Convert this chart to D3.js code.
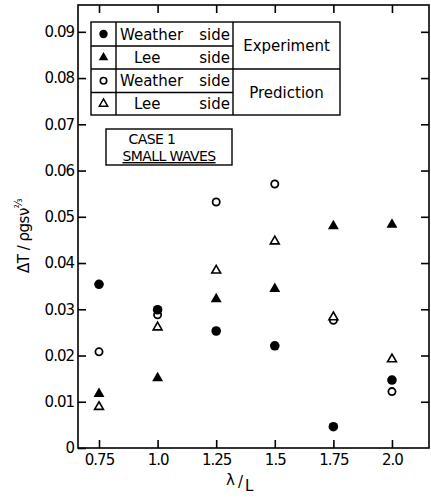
<!DOCTYPE html>
<html><head><meta charset="utf-8">
<script src="https://cdn.jsdelivr.net/npm/d3@7"></script>
<style>
html,body{margin:0;padding:0;background:#fff;}
svg{display:block;font-family:"DejaVu Sans",sans-serif;}
</style></head>
<body>
<svg id="c" width="431" height="499"></svg>
<script>
const ratio = [0.75, 1.0, 1.25, 1.5, 1.75, 2.0];
const xTicks = [0.75, 1.0, 1.25, 1.5, 1.75, 2.0];
const xTickLabels = ["0.75", "1.0", "1.25", "1.5", "1.75", "2.0"];
const yTicks = [0, 0.01, 0.02, 0.03, 0.04, 0.05, 0.06, 0.07, 0.08, 0.09];
const yTickLabels = ["0", "0.01", "0.02", "0.03", "0.04", "0.05", "0.06", "0.07", "0.08", "0.09"];
const expWeather = [0.0354, 0.0299, 0.0253, 0.0221, 0.0046, 0.0147];
const expLee     = [0.0117, 0.0151, 0.0322, 0.0344, 0.0480, 0.0483];
const predWeather= [0.0208, 0.0288, 0.0532, 0.0571, 0.0276, 0.0122];
const predLee    = [0.0089, 0.0261, 0.0384, 0.0447, 0.0283, 0.0192];

const W = 431, H = 499;
const m = {left: 78, right: 2, top: 5, bottom: 51};
const svg = d3.select("#c");
const x = d3.scaleLinear().domain([0.6604, 2.158]).range([m.left, W - m.right]);
const y = d3.scaleLinear().domain([0, 0.0958]).range([H - m.bottom, m.top]);

// frame
svg.append("rect").attr("x", m.left).attr("y", m.top)
  .attr("width", W - m.right - m.left).attr("height", H - m.bottom - m.top)
  .attr("fill", "none").attr("stroke", "#000").attr("stroke-width", 1.6);

function styleAxis(g){
  g.select(".domain").remove();
  g.selectAll(".tick line").attr("stroke", "#000").attr("stroke-width", 1.6);
  g.selectAll(".tick text").attr("fill", "#000").attr("font-size", 15)
    .attr("font-family", "DejaVu Sans, sans-serif").attr("letter-spacing", "-1px");
}
const fmtX = d => xTickLabels[xTicks.indexOf(d)];
const fmtY = d => yTickLabels[yTicks.indexOf(d)];

svg.append("g").attr("transform", `translate(0,${H - m.bottom})`)
  .call(d3.axisBottom(x).tickValues(xTicks).tickFormat(fmtX).tickSizeInner(-8).tickSizeOuter(0).tickPadding(6))
  .call(styleAxis);
svg.append("g").attr("transform", `translate(0,${m.top})`)
  .call(d3.axisTop(x).tickValues(xTicks).tickFormat("").tickSizeInner(-8).tickSizeOuter(0))
  .call(styleAxis);
svg.append("g").attr("transform", `translate(${m.left},0)`)
  .call(d3.axisLeft(y).tickValues(yTicks).tickFormat(fmtY).tickSizeInner(-8).tickSizeOuter(0).tickPadding(4))
  .call(styleAxis);
svg.append("g").attr("transform", `translate(${W - m.right},0)`)
  .call(d3.axisRight(y).tickValues(yTicks.filter(d => d > 0)).tickFormat("").tickSizeInner(-8).tickSizeOuter(0))
  .call(styleAxis);

// axis labels
svg.append("text").attr("transform", `translate(29,236) rotate(-90)`)
  .attr("text-anchor", "middle").attr("font-size", 15).attr("fill", "#000").attr("letter-spacing", "-0.5px")
  .text("ΔT / ρgsν").append("tspan").attr("dy", -7).attr("font-size", 10).text("⅔");
const xl = svg.append("text").attr("x", 226).attr("y", 485).attr("font-size", 15).attr("fill", "#000");
xl.append("tspan").text("λ");
xl.append("tspan").attr("dx", 3).attr("dy", 2).text("/");
xl.append("tspan").attr("dx", 2).attr("dy", 4).text("L");

// markers
const tri = d3.symbol().type(d3.symbolTriangle);
function plotSeries(vals, kind, filled){
  const g = svg.append("g");
  const data = ratio.map((r, i) => ({r, v: vals[i]}));
  if (kind === "circle") {
    g.selectAll("circle").data(data).join("circle")
      .attr("cx", d => x(d.r)).attr("cy", d => y(d.v))
      .attr("r", filled ? 4.8 : 3.6)
      .attr("fill", filled ? "#000" : "#fff").attr("stroke", "#000").attr("stroke-width", filled ? 0 : 1.8);
  } else {
    g.selectAll("path").data(data).join("path")
      .attr("transform", d => `translate(${x(d.r)},${y(d.v)})`)
      .attr("d", tri.size(filled ? 52 : 34)())
      .attr("fill", filled ? "#000" : "#fff").attr("stroke", "#000").attr("stroke-width", filled ? 0 : 1.6);
  }
}
plotSeries(predWeather, "circle", false);
plotSeries(predLee, "tri", false);
plotSeries(expWeather, "circle", true);
plotSeries(expLee, "tri", true);

// legend table
const L = svg.append("g").attr("stroke", "#000").attr("stroke-width", 1.4).attr("fill", "none");
const lx0 = 91, lx1 = 116, lx2 = 233, lx3 = 340;
const rows = [22, 46, 69, 92.5, 115];
L.append("rect").attr("x", lx0).attr("y", rows[0]).attr("width", lx3 - lx0).attr("height", rows[4] - rows[0]);
L.append("line").attr("x1", lx1).attr("x2", lx1).attr("y1", rows[0]).attr("y2", rows[4]);
L.append("line").attr("x1", lx2).attr("x2", lx2).attr("y1", rows[0]).attr("y2", rows[4]);
L.append("line").attr("x1", lx0).attr("x2", lx3).attr("y1", rows[2]).attr("y2", rows[2]);
L.append("line").attr("x1", lx0).attr("x2", lx2).attr("y1", rows[1]).attr("y2", rows[1]);
L.append("line").attr("x1", lx0).attr("x2", lx2).attr("y1", rows[3]).attr("y2", rows[3]);

const legendItems = [
  {kind: "circle", filled: true, a: "Weather", b: "side", ax: 120},
  {kind: "tri", filled: true, a: "Lee", b: "side", ax: 134},
  {kind: "circle", filled: false, a: "Weather", b: "side", ax: 120},
  {kind: "tri", filled: false, a: "Lee", b: "side", ax: 134}
];
legendItems.forEach((it, i) => {
  const cy = (rows[i] + rows[i + 1]) / 2;
  const cx = (lx0 + lx1) / 2;
  if (it.kind === "circle") {
    svg.append("circle").attr("cx", cx).attr("cy", cy).attr("r", it.filled ? 4.2 : 3.2)
      .attr("fill", it.filled ? "#000" : "#fff").attr("stroke", "#000").attr("stroke-width", it.filled ? 0 : 1.6);
  } else {
    svg.append("path").attr("transform", `translate(${cx},${cy})`)
      .attr("d", tri.size(it.filled ? 40 : 30)())
      .attr("fill", it.filled ? "#000" : "#fff").attr("stroke", "#000").attr("stroke-width", it.filled ? 0 : 1.5);
  }
  svg.append("text").attr("x", it.ax).attr("y", cy + 5.5).attr("font-size", 15).attr("fill", "#000").text(it.a);
  svg.append("text").attr("x", 230).attr("y", cy + 5.5).attr("text-anchor", "end").attr("font-size", 15).attr("fill", "#000").text(it.b);
});
svg.append("text").attr("x", (lx2 + lx3) / 2).attr("y", (rows[0] + rows[2]) / 2 + 5.5)
  .attr("text-anchor", "middle").attr("font-size", 15).attr("fill", "#000").text("Experiment");
svg.append("text").attr("x", (lx2 + lx3) / 2).attr("y", (rows[2] + rows[4]) / 2 + 5.5)
  .attr("text-anchor", "middle").attr("font-size", 15).attr("fill", "#000").text("Prediction");

// case box
svg.append("rect").attr("x", 106).attr("y", 129).attr("width", 126).attr("height", 36)
  .attr("fill", "none").attr("stroke", "#000").attr("stroke-width", 1.4);
svg.append("text").attr("x", 152).attr("y", 144).attr("text-anchor", "middle")
  .attr("font-size", 14).attr("fill", "#000").attr("letter-spacing", "-0.6px").text("CASE 1");
svg.append("text").attr("x", 169).attr("y", 161).attr("text-anchor", "middle")
  .attr("font-size", 14).attr("fill", "#000").attr("letter-spacing", "-0.6px")
  .attr("text-decoration", "underline").text("SMALL WAVES");
</script>
</body></html>
